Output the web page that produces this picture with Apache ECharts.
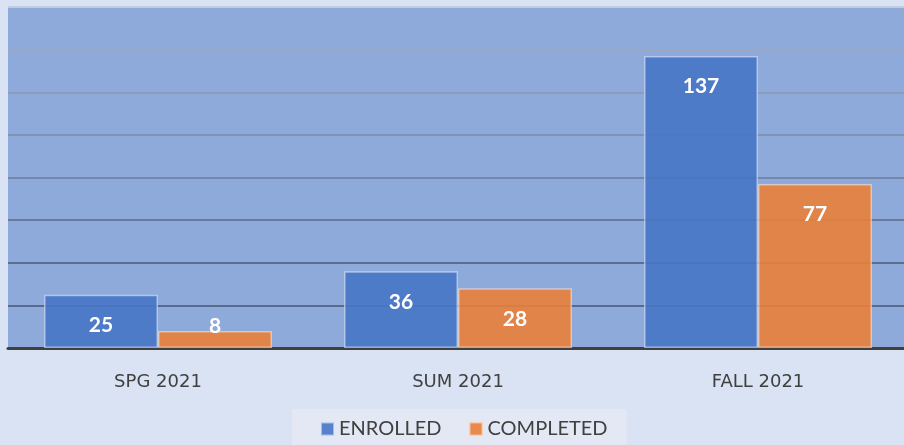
<!DOCTYPE html>
<html><head><meta charset="utf-8">
<script src="https://cdn.jsdelivr.net/npm/echarts@6/dist/echarts.min.js"></script>
<style>html,body{margin:0;padding:0;background:#dae3f3;overflow:hidden;width:904px;height:445px;}#c{width:912px;height:445px;}</style>
</head><body><div id="c"></div>
<script>
const categories = ['SPG 2021', 'SUM 2021', 'FALL 2021'];
const enrolled = [25, 36, 137];
const completed = [8, 28, 77];
const seriesNames = ['ENROLLED', 'COMPLETED'];

const chart = echarts.init(document.getElementById('c'));
function mk(vals) {
  return vals.map(v => v < 15
    ? { value: v, label: { position: 'top', distance: -6 } }
    : v);
}
const labelStyle = { show: true, position: 'insideTop', distance: 20, color: '#ffffff',
  fontFamily: 'Lato', fontWeight: 'bold', fontSize: 21 };
chart.setOption({
  backgroundColor: '#dae3f3',
  animation: false,
  grid: { left: 8, right: 4, top: 7, bottom: 97, show: true, backgroundColor: '#8eaadb', borderWidth: 0 },
  xAxis: {
    type: 'category', data: categories,
    axisLine: { lineStyle: { color: '#404040', width: 3 } },
    axisTick: { show: false },
    axisLabel: { color: '#404040', fontFamily: 'DejaVu Sans', fontSize: 18, margin: 25 }
  },
  yAxis: {
    type: 'value', min: 0, max: 160, interval: 20,
    axisLabel: { show: false }, axisLine: { show: false }, axisTick: { show: false },
    splitLine: { lineStyle: { width: 2, color: ['#5a6a8a', '#5a6a8a', '#5e6e8e', '#6a7a9a', '#7686a6', '#8292b2', '#8e9cbc', '#9ca8c6', '#c3cadb'] } }
  },
  legend: {
    bottom: -6, left: 292, data: seriesNames,
    backgroundColor: '#e3e8f4', padding: [10, 19, 12, 28],
    itemWidth: 13, itemHeight: 13, itemGap: 27, icon: 'rect',
    textStyle: { color: '#404040', fontFamily: 'Lato', fontSize: 20 }
  },
  series: [
    { name: seriesNames[0], type: 'bar', data: mk(enrolled), barGap: '0%', barCategoryGap: '24%',
      itemStyle: { color: 'rgba(71,117,197,0.9)', borderColor: 'rgba(220,230,250,0.6)', borderWidth: 1.5 },
      label: labelStyle },
    { name: seriesNames[1], type: 'bar', data: mk(completed),
      itemStyle: { color: 'rgba(233,127,58,0.9)', borderColor: 'rgba(250,225,210,0.6)', borderWidth: 1.5 },
      label: labelStyle }
  ]
});
</script></body></html>
